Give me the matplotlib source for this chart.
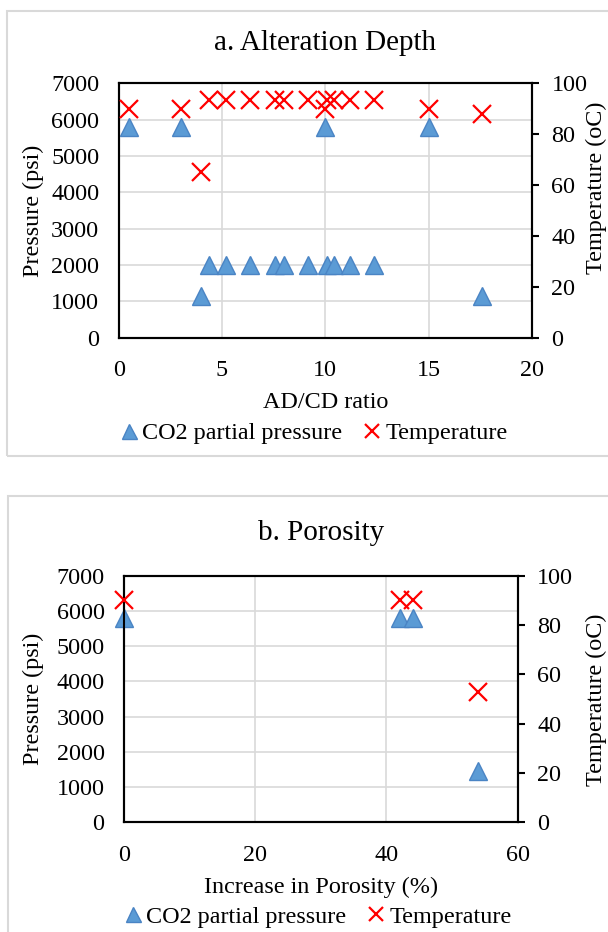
# Two stacked Excel-style scatter panels: CO2 partial pressure (left axis)
# and temperature (right axis) against alteration depth and porosity.

import matplotlib.pyplot as plt
from matplotlib.patches import Rectangle

plt.rcParams['font.family'] = ['Liberation Serif', 'DejaVu Serif']

# panel a: AD/CD ratio
ad_ratio = [0.5, 3.0, 4.0, 4.37, 5.17, 6.37, 7.56, 7.98, 9.16, 10.0,
            10.06, 10.4, 11.17, 12.37, 15.0, 17.6]
ad_pressure = [5800, 5800, 1160, 2000, 2000, 2000, 2000, 2000, 2000, 5800,
               2000, 2000, 2000, 2000, 5800, 1160]
ad_temp = [90, 90, 65, 93.3, 93.3, 93.3, 93.3, 93.3, 93.3, 90,
           93.3, 93.3, 93.3, 93.3, 90, 88]

# panel b: increase in porosity (%)
por_increase = [0, 42, 44, 54]
por_pressure = [5800, 5800, 5800, 1450]
por_temp = [90, 90, 90, 53]

titles = ["a. Alteration Depth", "b. Porosity"]
xlabels = ["AD/CD ratio", "Increase in Porosity (%)"]
legend_labels = ["CO2 partial pressure", "Temperature"]

W, H = 608, 932
BLUE = "#5B9BD5"
BLUE_EDGE = "#4A84C4"
RED = "#FF0000"
GRID = "#D9D9D9"
FS = 17.4

fig = plt.figure(figsize=(W / 100, H / 100), dpi=100)


def fx(px):
    return px / W


def fy(py):
    return 1 - py / H


def panel(box, x, p, t, xlim, xstep, title, xlabel, title_y, xlabel_y,
          right_label_y, legend_xy, border):
    left, top, right, bottom = box
    ax = fig.add_axes([fx(left), fy(bottom), fx(right - left), (bottom - top) / H])
    ax2 = ax.twinx()

    h1, = ax.plot(x, p, ls="none", marker="^", ms=13.5, mfc=BLUE, mec=BLUE_EDGE,
                  mew=1, clip_on=False, zorder=3)
    h2, = ax2.plot(x, t, ls="none", marker="x", ms=13, mec=RED, mew=1.6,
                   clip_on=False, zorder=3)

    ax.set_xlim(*xlim)
    ax.set_xticks(range(xlim[0], xlim[1] + 1, xstep))
    ax.set_ylim(0, 7000)
    ax.set_yticks(range(0, 7001, 1000))
    ax2.set_ylim(0, 100)
    ax2.set_yticks(range(0, 101, 20))

    ax.grid(True, color=GRID, lw=1.2)
    ax.set_axisbelow(True)
    for a in (ax, ax2):
        for s in a.spines.values():
            s.set_linewidth(1.5)
            s.set_color("black")
    ax.tick_params(axis="y", length=0, pad=14, labelsize=FS)
    ax.tick_params(axis="x", length=0, pad=16, labelsize=FS)
    ax2.tick_params(axis="y", direction="out", length=5, width=1.5, pad=9, labelsize=FS)

    fig.text(fx((left + right) / 2), fy(title_y), title, ha="center", va="center", fontsize=21)
    fig.text(fx((left + right) / 2), fy(xlabel_y), xlabel, ha="center", va="center", fontsize=FS)
    fig.text(fx(33), fy((top + bottom) / 2), "Pressure (psi)", rotation=90,
             ha="center", va="center", fontsize=FS)
    # right-hand label sits against the image edge, as in the original
    fig.text(fx(607), fy(right_label_y), "Temperature (oC)", rotation=90,
             ha="right", va="center", fontsize=FS)

    fig.legend([h1, h2], legend_labels, loc="center",
               bbox_to_anchor=(fx(legend_xy[0]), fy(legend_xy[1])), ncol=2,
               frameon=False, fontsize=FS, handlelength=0.7, handletextpad=0.2,
               columnspacing=0.9, markerscale=0.8)

    bx0, by0, bx1, by1 = border
    fig.add_artist(Rectangle((fx(bx0), fy(by1)), fx(bx1 - bx0), (by1 - by0) / H,
                             transform=fig.transFigure, fill=False,
                             edgecolor=GRID, lw=1.5))


panel((118.7, 83.3, 532, 337.7), ad_ratio, ad_pressure, ad_temp, (0, 20), 5,
      titles[0], xlabels[0], 43, 403, 188, (314, 433), (7, 11, 640, 456))
panel((124, 575.7, 517.7, 822.3), por_increase, por_pressure, por_temp, (0, 60), 20,
      titles[1], xlabels[1], 533, 887, 700, (318, 917), (8, 496, 640, 980))

fig.savefig("out.png", dpi=100)
